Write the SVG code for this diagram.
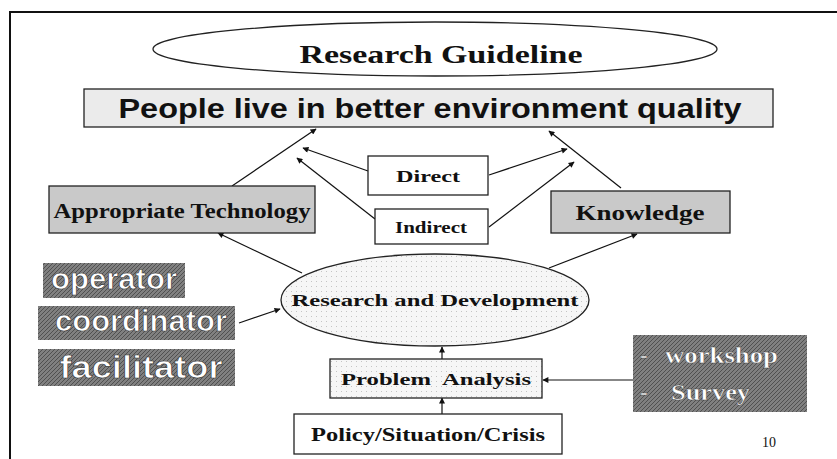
<svg xmlns="http://www.w3.org/2000/svg" width="837" height="459" viewBox="0 0 837 459">
<style>
.serif{font-family:"Liberation Serif","Times New Roman",serif;font-weight:bold;fill:#111}
.sans{font-family:"Liberation Sans",Arial,sans-serif;font-weight:bold;fill:#111}
.box{stroke:#222;stroke-width:1.3}
.white{fill:#fff}
.light{fill:#ebebeb}
.mid{fill:#c9c9c9}
.out{font-family:"Liberation Sans",Arial,sans-serif;font-weight:bold;fill:#fff;stroke:#3a3a3a;stroke-width:0.7}
.outs{font-family:"Liberation Serif","Times New Roman",serif;font-weight:bold;fill:#fff;stroke:#3a3a3a;stroke-width:0.4}
.conn line{stroke:#111;stroke-width:1.2;marker-end:url(#ah)}
</style>
<defs>
<marker id="ah" viewBox="0 0 10 10" refX="9" refY="5" markerWidth="7" markerHeight="6" markerUnits="userSpaceOnUse" orient="auto">
<path d="M0,0 L10,5 L0,10 z" fill="#111"/>
</marker>
<pattern id="dots" width="5" height="5" patternUnits="userSpaceOnUse">
<rect width="5" height="5" fill="#f6f6f6"/>
<rect x="1" y="1" width="1" height="1" fill="#c4c4c4"/>
</pattern>
<pattern id="hatch" width="4" height="4" patternUnits="userSpaceOnUse">
<rect width="4" height="4" fill="#808080"/>
<path d="M0,4 L4,0" stroke="#505050" stroke-width="1"/>
</pattern>
</defs>
<rect width="837" height="459" fill="#fff"/>
<path d="M10,459 V12 H837" fill="none" stroke="#111" stroke-width="2"/>

<g class="conn">
<line x1="232" y1="186" x2="316" y2="129"/>
<line x1="368" y1="171" x2="303" y2="148"/>
<line x1="375" y1="219" x2="297" y2="158"/>
<line x1="489" y1="175" x2="567" y2="149"/>
<line x1="489" y1="227" x2="574" y2="162"/>
<line x1="621" y1="188" x2="549" y2="131"/>
<line x1="302" y1="273" x2="218" y2="233"/>
<line x1="549" y1="268" x2="637" y2="234"/>
<line x1="239" y1="323" x2="280" y2="309"/>
<line x1="442" y1="359" x2="442" y2="347"/>
<line x1="442" y1="414" x2="442" y2="398"/>
<line x1="633" y1="380" x2="543" y2="380"/>
</g>

<g id="research-guideline">
<ellipse cx="435" cy="49" rx="282" ry="27" class="box white"/>
<text x="441" y="63" class="serif" font-size="26" text-anchor="middle" textLength="283" lengthAdjust="spacingAndGlyphs">Research Guideline</text>
</g>

<g id="people">
<rect x="84" y="89" width="689" height="38" class="box light"/>
<text x="430" y="118" class="sans" font-size="27" text-anchor="middle" textLength="623" lengthAdjust="spacingAndGlyphs">People live in better environment quality</text>
</g>

<g id="direct">
<rect x="368" y="156" width="120" height="39" class="box white"/>
<text x="428" y="182" class="serif" font-size="17" text-anchor="middle" textLength="64" lengthAdjust="spacingAndGlyphs">Direct</text>
</g>

<g id="indirect">
<rect x="375" y="209" width="113" height="35" class="box white"/>
<text x="431" y="233" class="serif" font-size="16" text-anchor="middle" textLength="72" lengthAdjust="spacingAndGlyphs">Indirect</text>
</g>

<g id="appropriate-technology">
<rect x="49" y="186" width="266" height="47" class="box mid"/>
<text x="182" y="218" class="serif" font-size="20" text-anchor="middle" textLength="257" lengthAdjust="spacingAndGlyphs">Appropriate Technology</text>
</g>

<g id="knowledge">
<rect x="551" y="191" width="179" height="42" class="box mid"/>
<text x="640" y="220" class="serif" font-size="21" text-anchor="middle" textLength="129" lengthAdjust="spacingAndGlyphs">Knowledge</text>
</g>

<g id="research-development">
<ellipse cx="435" cy="300" rx="154" ry="46" class="box" fill="url(#dots)"/>
<text x="435" y="306" class="serif" font-size="17" text-anchor="middle" textLength="287" lengthAdjust="spacingAndGlyphs">Research and Development</text>
</g>

<g id="operator">
<rect x="43" y="263" width="142" height="35" fill="url(#hatch)"/>
<text x="114" y="289" class="out" font-size="30" text-anchor="middle" textLength="126" lengthAdjust="spacingAndGlyphs">operator</text>
</g>

<g id="coordinator">
<rect x="38" y="306" width="197" height="34" fill="url(#hatch)"/>
<text x="141" y="331" class="out" font-size="30" text-anchor="middle" textLength="172" lengthAdjust="spacingAndGlyphs">coordinator</text>
</g>

<g id="facilitator">
<rect x="38" y="349" width="197" height="37" fill="url(#hatch)"/>
<text x="141" y="378" class="out" font-size="31" text-anchor="middle" textLength="163" lengthAdjust="spacingAndGlyphs">facilitator</text>
</g>

<g id="problem-analysis">
<rect x="330" y="359" width="212" height="39" class="box" fill="url(#dots)"/>
<text x="436" y="385" class="serif" font-size="17" text-anchor="middle" textLength="190" lengthAdjust="spacingAndGlyphs" xml:space="preserve">Problem  Analysis</text>
</g>

<g id="policy">
<rect x="294" y="414" width="268" height="40" class="box white"/>
<text x="428" y="441" class="serif" font-size="18" text-anchor="middle" textLength="234" lengthAdjust="spacingAndGlyphs">Policy/Situation/Crisis</text>
</g>

<g id="workshop-survey">
<rect x="633" y="335" width="174" height="77" fill="url(#hatch)"/>
<text x="640" y="363" class="outs" font-size="23">-</text>
<text x="665" y="363" class="outs" font-size="24" textLength="113" lengthAdjust="spacingAndGlyphs">workshop</text>
<text x="640" y="400" class="outs" font-size="23">-</text>
<text x="671" y="400" class="outs" font-size="24" textLength="79" lengthAdjust="spacingAndGlyphs">Survey</text>
</g>

<text x="769" y="447" font-family="Liberation Serif,Times New Roman,serif" font-size="14" fill="#111" text-anchor="middle">10</text>
</svg>
